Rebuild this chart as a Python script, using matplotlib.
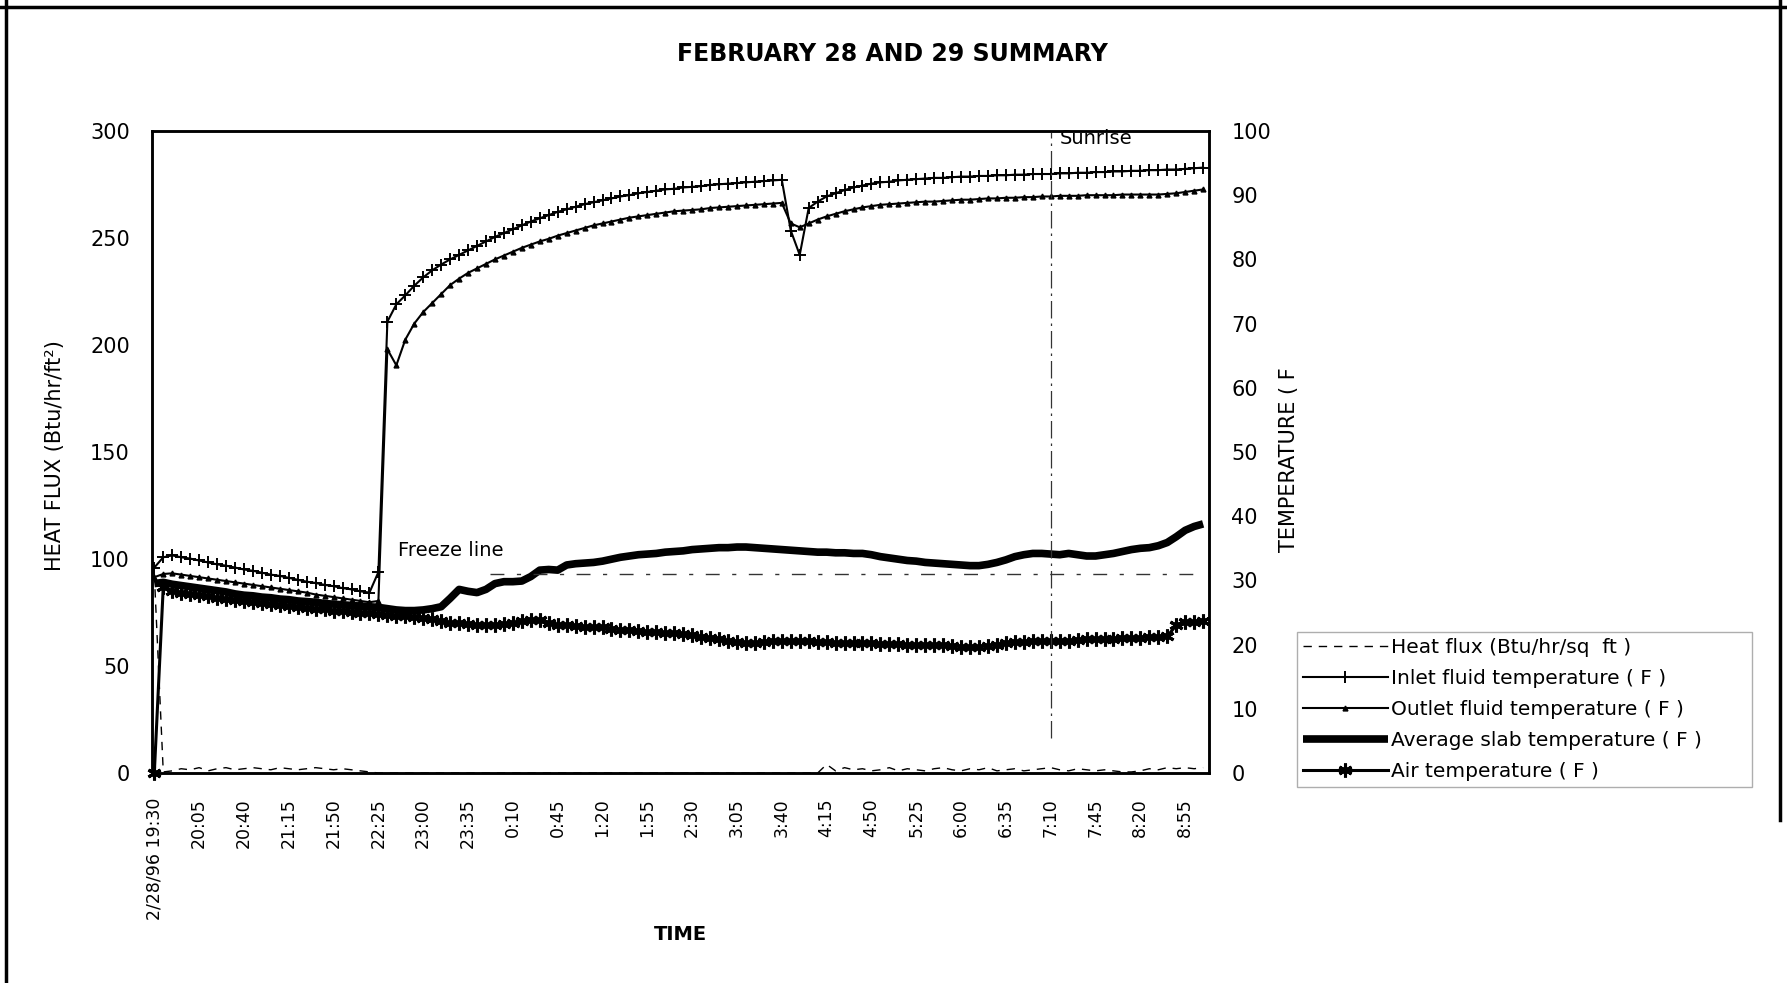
import matplotlib
matplotlib.use("Agg")
import matplotlib.pyplot as plt
from matplotlib.lines import Line2D

plt.rcParams['font.family'] = ['DejaVu Sans']

# ---------------- data (readings every 7 minutes from 19:30) ----------------
minutes = list(range(0, 820, 7))          # minutes after 2/28/96 19:30
tick_minutes = list(range(0, 806, 35))
tick_labels = ["2/28/96 19:30", "20:05", "20:40", "21:15", "21:50", "22:25",
               "23:00", "23:35", "0:10", "0:45", "1:20", "1:55", "2:30",
               "3:05", "3:40", "4:15", "4:50", "5:25", "6:00", "6:35",
               "7:10", "7:45", "8:20", "8:55"]

heat_flux = [93.0, 0.5, 1.0, 2.0, 1.5, 2.5, 1.0, 2.0, 2.5, 1.5,
             2.0, 2.5, 2.0, 1.5, 2.5, 2.0, 1.5, 2.0, 2.5, 2.0,
             1.5, 2.0, 1.5, 1.0, 0.5, 0.0, 0.0, 0.0, 0.0, 0.0,
             0.0, 0.0, 0.0, 0.0, 0.0, 0.0, 0.0, 0.0, 0.0, 0.0,
             0.0, 0.0, 0.0, 0.0, 0.0, 0.0, 0.0, 0.0, 0.0, 0.0,
             0.0, 0.0, 0.0, 0.0, 0.0, 0.0, 0.0, 0.0, 0.0, 0.0,
             0.0, 0.0, 0.0, 0.0, 0.0, 0.0, 0.0, 0.0, 0.0, 0.0,
             0.0, 0.0, 0.0, 0.0, 0.0, 4.0, 1.0, 2.5, 1.5, 2.0,
             1.0, 1.5, 2.5, 1.0, 2.0, 1.5, 1.0, 2.0, 2.5, 1.5,
             1.0, 2.0, 1.5, 2.5, 1.0, 1.5, 2.0, 1.0, 1.5, 2.0,
             2.5, 1.5, 1.0, 2.0, 1.5, 1.0, 1.5, 1.0, 0.5, 0.5,
             1.0, 2.0, 1.5, 2.5, 2.0, 2.5, 2.0, 2.5]

inlet = [32.0, 33.6, 33.9, 33.6, 33.4, 33.1, 32.8, 32.5, 32.3, 32.0,
         31.7, 31.5, 31.2, 30.9, 30.7, 30.4, 30.1, 29.8, 29.6, 29.3,
         29.1, 28.8, 28.6, 28.3, 28.1, 31.3, 70.3, 73.0, 74.4, 75.9,
         77.2, 78.3, 79.2, 80.0, 80.7, 81.4, 82.1, 82.8, 83.5, 84.1,
         84.7, 85.3, 85.9, 86.4, 86.9, 87.4, 87.8, 88.2, 88.6, 88.9,
         89.2, 89.5, 89.8, 90.0, 90.3, 90.5, 90.7, 90.9, 91.0, 91.2,
         91.3, 91.4, 91.6, 91.7, 91.8, 91.9, 92.0, 92.1, 92.2, 92.3,
         92.4, 84.5, 80.7, 88.0, 89.0, 89.8, 90.3, 90.8, 91.2, 91.5,
         91.8, 92.0, 92.1, 92.3, 92.4, 92.5, 92.6, 92.7, 92.7, 92.8,
         92.9, 92.9, 93.0, 93.0, 93.1, 93.1, 93.2, 93.2, 93.3, 93.3,
         93.3, 93.4, 93.4, 93.5, 93.5, 93.6, 93.6, 93.7, 93.7, 93.8,
         93.8, 93.9, 93.9, 94.0, 94.0, 94.1, 94.2, 94.3]

outlet = [30.5, 31.0, 31.1, 30.9, 30.7, 30.5, 30.3, 30.1, 29.9, 29.7,
          29.5, 29.3, 29.1, 28.9, 28.7, 28.5, 28.3, 28.1, 27.8, 27.6,
          27.4, 27.2, 27.0, 26.8, 26.6, 26.8, 66.0, 63.5, 67.5, 70.0,
          71.8, 73.2, 74.6, 76.0, 77.0, 77.9, 78.6, 79.3, 80.0, 80.6,
          81.2, 81.8, 82.3, 82.8, 83.2, 83.7, 84.1, 84.5, 84.9, 85.3,
          85.6, 85.9, 86.2, 86.5, 86.7, 86.9, 87.1, 87.3, 87.5, 87.6,
          87.7, 87.8, 88.0, 88.1, 88.2, 88.3, 88.4, 88.5, 88.6, 88.7,
          88.8, 85.6, 85.0, 85.6, 86.2, 86.7, 87.1, 87.5, 87.8, 88.1,
          88.3, 88.5, 88.6, 88.7, 88.8, 88.9, 89.0, 89.0, 89.1, 89.2,
          89.3, 89.3, 89.4, 89.5, 89.5, 89.6, 89.6, 89.7, 89.7, 89.8,
          89.8, 89.9, 89.9, 89.9, 90.0, 90.0, 90.0, 90.0, 90.1, 90.1,
          90.1, 90.1, 90.1, 90.2, 90.3, 90.5, 90.7, 90.9]

slab = [29.5, 29.7, 29.4, 29.2, 29.0, 28.8, 28.6, 28.4, 28.2, 27.9,
        27.7, 27.6, 27.4, 27.3, 27.1, 27.0, 26.8, 26.7, 26.6, 26.4,
        26.3, 26.2, 26.1, 26.0, 25.9, 25.8, 25.6, 25.4, 25.3, 25.3,
        25.4, 25.6, 25.9, 27.2, 28.6, 28.3, 28.1, 28.6, 29.5, 29.8,
        29.8, 29.9, 30.6, 31.6, 31.7, 31.6, 32.4, 32.6, 32.7, 32.8,
        33.0, 33.3, 33.6, 33.8, 34.0, 34.1, 34.2, 34.4, 34.5, 34.6,
        34.8, 34.9, 35.0, 35.1, 35.1, 35.2, 35.2, 35.1, 35.0, 34.9,
        34.8, 34.7, 34.6, 34.5, 34.4, 34.4, 34.3, 34.3, 34.2, 34.2,
        34.0, 33.7, 33.5, 33.3, 33.1, 33.0, 32.8, 32.7, 32.6, 32.5,
        32.4, 32.3, 32.3, 32.5, 32.8, 33.2, 33.7, 34.0, 34.2, 34.2,
        34.1, 34.0, 34.2, 34.0, 33.8, 33.8, 34.0, 34.2, 34.5, 34.8,
        35.0, 35.1, 35.4, 35.9, 36.8, 37.8, 38.4, 38.8]

air = [0.0, 29.0, 28.4, 28.1, 27.9, 27.7, 27.5, 27.3, 27.1, 27.0,
       26.8, 26.6, 26.5, 26.3, 26.2, 26.0, 25.9, 25.7, 25.6, 25.5,
       25.3, 25.2, 25.1, 25.0, 24.9, 24.8, 24.6, 24.5, 24.4, 24.3,
       24.2, 24.0, 23.7, 23.4, 23.3, 23.2, 23.1, 23.0, 23.1, 23.2,
       23.3, 23.6, 23.9, 23.8, 23.4, 23.1, 23.0, 22.9, 22.8, 22.8,
       22.7, 22.5, 22.3, 22.2, 22.1, 22.0, 21.9, 21.8, 21.8, 21.7,
       21.5, 21.2, 21.0, 20.8, 20.6, 20.4, 20.3, 20.3, 20.4, 20.5,
       20.6, 20.6, 20.5, 20.5, 20.4, 20.4, 20.3, 20.3, 20.3, 20.2,
       20.2, 20.1, 20.1, 20.1, 20.0, 20.0, 20.0, 19.9, 19.9, 19.8,
       19.7, 19.7, 19.7, 19.8, 20.0, 20.3, 20.4, 20.4, 20.5, 20.5,
       20.5, 20.5, 20.6, 20.7, 20.8, 20.8, 20.9, 20.9, 21.0, 21.1,
       21.1, 21.2, 21.2, 21.3, 23.0, 23.5, 23.5, 23.6]

freeze_temp = 31.0        # F, dashed freeze line
freeze_from = 262         # minutes
sunrise_minute = 700      # 7:10
sunrise_low = 5.5         # F, lower end of sunrise marker line

series_labels = ["Heat flux (Btu/hr/sq  ft )", "Inlet fluid temperature ( F )",
                 "Outlet fluid temperature ( F )", "Average slab temperature ( F )",
                 "Air temperature ( F )"]

for s in (heat_flux, inlet, outlet, slab, air):
    assert len(s) == len(minutes), len(s)

# ---------------- figure ----------------
W, H = 1787, 983
fig = plt.figure(figsize=(W / 100, H / 100), dpi=100)
fig.patch.set_facecolor('white')

L, R, T, B = 152, 1209, 131, 773
ax = fig.add_axes([L / W, 1 - B / H, (R - L) / W, (B - T) / H])
ax2 = ax.twinx()

x_end = 823.6
ax.set_xlim(-1.8, x_end)
ax.set_ylim(0, 300)
ax2.set_ylim(0, 100)

h_flux, = ax.plot(minutes, heat_flux, color='black', lw=1.0, ls=(0, (6, 5)))
h_in, = ax2.plot(minutes, inlet, color='black', lw=1.5, marker='+', ms=8, mew=1.4)
h_out, = ax2.plot(minutes, outlet, color='black', lw=1.5, marker='^', ms=3.5)
h_slab, = ax2.plot(minutes, slab, color='black', lw=5.5, solid_capstyle='butt',
                   clip_on=False)
h_air, = ax2.plot(minutes, air, color='black', lw=2.2, marker=(6, 2, 0), ms=10,
                  mew=2.2, clip_on=False)

ax2.hlines(freeze_temp, freeze_from, x_end - 4, color='#333333', lw=1.0,
           linestyles=[(0, (10, 9, 3, 9))])
ax2.vlines(sunrise_minute, sunrise_low, 100, color='#333333', lw=0.9,
           linestyles=[(0, (14, 4, 2, 4))])
ax2.text(190, 34.7, "Freeze line", fontsize=14, ha='left', va='center')
ax2.text(707, 98.9, "Sunrise", fontsize=14, ha='left', va='center')

ax.set_xticks(tick_minutes)
ax.set_xticklabels(tick_labels, rotation=90, fontsize=12.5)
ax.tick_params(axis='x', length=0, pad=18)
ax.set_yticks(range(0, 301, 50))
ax.tick_params(axis='y', length=0, pad=16, labelsize=15)
ax2.set_yticks(range(0, 101, 10))
ax2.tick_params(axis='y', length=0, pad=16, labelsize=15)

for a in (ax, ax2):
    for sp in a.spines.values():
        sp.set_linewidth(1.8)
        sp.set_color('black')

fig.text(55 / W, 1 - 456 / H, "HEAT FLUX (Btu/hr/ft²)", rotation=90,
         ha='center', va='center', fontsize=15)
fig.text(1289 / W, 1 - 460 / H, "TEMPERATURE ( F", rotation=90,
         ha='center', va='center', fontsize=15)
fig.text(680 / W, 1 - 934 / H, "TIME", ha='center', va='center',
         fontsize=14, fontweight='bold')
fig.text(892 / W, 1 - 54 / H, "FEBRUARY 28 AND 29 SUMMARY", ha='center',
         va='center', fontsize=17, fontweight='bold')

leg = fig.legend([h_flux, h_in, h_out, h_slab, h_air], series_labels,
                 loc='upper left',
                 bbox_to_anchor=(1297 / W, 1 - 789 / H, (1752 - 1297) / W, (789 - 632) / H),
                 mode='expand', borderaxespad=0, fontsize=14.5,
                 handlelength=4.2, handletextpad=0.15, borderpad=0.3,
                 labelspacing=0.6, frameon=True, fancybox=False)
leg.get_frame().set_edgecolor('#9a9a9a')
leg.get_frame().set_linewidth(1.0)

# scanned page border
fig.add_artist(Line2D([6 / W, 6 / W], [0, 1], transform=fig.transFigure,
                      color='black', lw=2.5))
fig.add_artist(Line2D([0, 1], [1 - 7 / H, 1 - 7 / H], transform=fig.transFigure,
                      color='black', lw=2.5))
fig.add_artist(Line2D([1780 / W, 1780 / W], [1, 1 - 820 / H], transform=fig.transFigure,
                      color='black', lw=2.5))

fig.savefig("out.png", dpi=100, facecolor='white')
